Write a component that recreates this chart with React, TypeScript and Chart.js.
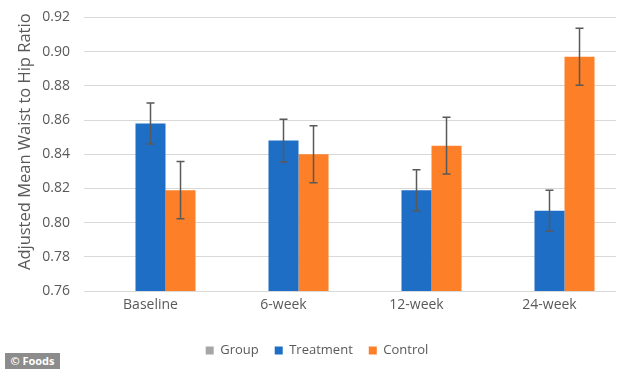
import React, { useEffect, useRef } from "react";
import { Chart, registerables } from "chart.js";

Chart.register(...registerables);

const categories = ["Baseline", "6-week", "12-week", "24-week"];
const groupValues: (number | null)[] = [null, null, null, null];
const treatmentValues = [0.858, 0.848, 0.819, 0.807];
const treatmentErrors = [0.012, 0.0125, 0.012, 0.012];
const controlValues = [0.819, 0.84, 0.845, 0.897];
const controlErrors = [0.0167, 0.0166, 0.0166, 0.0167];
const yTicks = [0.76, 0.78, 0.8, 0.82, 0.84, 0.86, 0.88, 0.9, 0.92];
const yTitle = "Adjusted Mean Waist to Hip Ratio";

const FONT = "'Open Sans', 'Noto Sans', sans-serif";
const TEXT = "#595959";

const errorBarPlugin = {
  id: "errorBars",
  afterDatasetsDraw(chart: any) {
    const ctx = chart.ctx;
    const y = chart.scales.y;
    chart.data.datasets.forEach((ds: any, di: number) => {
      if (!ds.errors) return;
      const meta = chart.getDatasetMeta(di);
      meta.data.forEach((el: any, i: number) => {
        const v = ds.data[i];
        const e = ds.errors[i];
        if (v == null || e == null) return;
        const x = el.x;
        const yTop = y.getPixelForValue(v + e);
        const yBot = y.getPixelForValue(v - e);
        ctx.save();
        ctx.strokeStyle = "#595959";
        ctx.lineWidth = 1.5;
        ctx.beginPath();
        ctx.moveTo(x, yTop);
        ctx.lineTo(x, yBot);
        ctx.moveTo(x - 4, yTop);
        ctx.lineTo(x + 4, yTop);
        ctx.moveTo(x - 4, yBot);
        ctx.lineTo(x + 4, yBot);
        ctx.stroke();
        ctx.restore();
      });
    });
  },
};

const yTitlePlugin = {
  id: "yTitle",
  afterDraw(chart: any) {
    const ctx = chart.ctx;
    const area = chart.chartArea;
    ctx.save();
    ctx.translate(25, area.top + (area.bottom - area.top) / 2 - 12.5);
    ctx.rotate(-Math.PI / 2);
    ctx.font = `16.5px ${FONT}`;
    ctx.fillStyle = TEXT;
    ctx.textAlign = "center";
    ctx.textBaseline = "middle";
    ctx.fillText(yTitle, 0, 0);
    ctx.restore();
  },
};

export default function App() {
  const canvasRef = useRef<HTMLCanvasElement | null>(null);

  useEffect(() => {
    document.body.style.margin = "0";
    const canvas = canvasRef.current;
    if (!canvas) return;
    const chart = new Chart(canvas, {
      type: "bar",
      data: {
        labels: categories,
        datasets: [
          {
            label: "Group",
            data: groupValues,
            backgroundColor: "#A5A5A5",
            borderWidth: 0,
          },
          {
            label: "Treatment",
            data: treatmentValues,
            errors: treatmentErrors,
            backgroundColor: "#1F6EC6",
            borderWidth: 0,
          } as any,
          {
            label: "Control",
            data: controlValues,
            errors: controlErrors,
            backgroundColor: "#FD7F27",
            borderWidth: 0,
          } as any,
        ],
      },
      plugins: [errorBarPlugin, yTitlePlugin],
      options: {
        animation: false,
        responsive: false,
        maintainAspectRatio: false,
        datasets: {
          bar: {
            categoryPercentage: 0.677,
            barPercentage: 1.0,
          },
        },
        layout: {
          padding: { left: 0, right: 0, top: 17.5, bottom: 2 },
        },
        plugins: {
          legend: {
            position: "bottom",
            labels: {
              font: { family: FONT, size: 13 },
              color: TEXT,
              boxWidth: 8,
              boxHeight: 8,
              padding: 16,
            },
          },
          tooltip: { enabled: false },
        },
        scales: {
          x: {
            grid: { display: false, drawTicks: false },
            border: { display: false },
            ticks: {
              font: { family: FONT, size: 14 },
              color: TEXT,
              padding: 6,
            },
            afterFit(scale: any) {
              scale.height = 37;
            },
          },
          y: {
            min: 0.76,
            max: 0.92,
            afterBuildTicks(scale: any) {
              scale.ticks = yTicks.map((v) => ({ value: v }));
            },
            grid: { color: "#D9D9D9", lineWidth: 1, drawTicks: false },
            border: { display: false },
            ticks: {
              font: { family: FONT, size: 14 },
              color: TEXT,
              padding: 14,
              callback: (v: any) => Number(v).toFixed(2),
            },
            afterFit(scale: any) {
              scale.width = 84;
              scale.paddingTop = 0;
              scale.paddingBottom = 0;
            },
          },
          yRight: {
            position: "right",
            display: true,
            grid: { display: false, drawTicks: false },
            border: { display: false },
            ticks: { display: false },
            afterFit(scale: any) {
              scale.width = 18;
              scale.paddingTop = 0;
              scale.paddingBottom = 0;
            },
          },
        },
      } as any,
    });
    return () => chart.destroy();
  }, []);

  return (
    <div style={{ position: "relative", width: 634, height: 369, background: "#fff" }}>
      <canvas ref={canvasRef} width={634} height={369} style={{ display: "block" }} />
      <div
        style={{
          position: "absolute",
          left: 5,
          top: 353,
          width: 55,
          height: 16,
          background: "#8C8C8C",
          color: "#fff",
          fontFamily: FONT,
          fontWeight: 700,
          fontSize: 11,
          lineHeight: "16px",
          textAlign: "center",
        }}
      >
        © Foods
      </div>
    </div>
  );
}
